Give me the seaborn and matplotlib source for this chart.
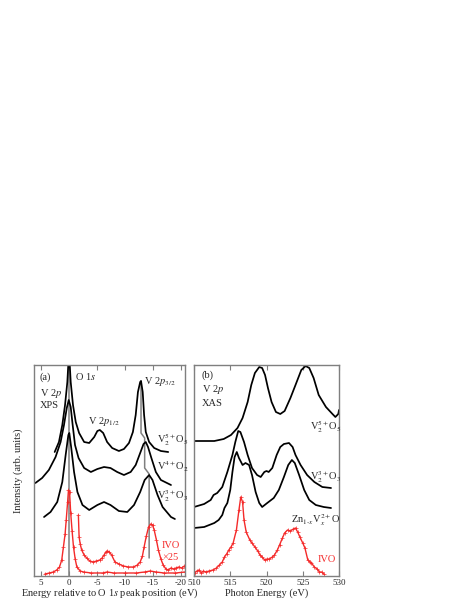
import matplotlib
matplotlib.use("Agg")
import matplotlib.pyplot as plt
import numpy as np
import pandas as pd
import seaborn as sns

sns.set_theme(style="ticks")
plt.rcParams["font.family"] = ["Liberation Serif", "DejaVu Serif"]
plt.rcParams["mathtext.fontset"] = "stix"
plt.rcParams["axes.unicode_minus"] = False

# ---------------------------------------------------------------------------
# (a) V 2p XPS, energy relative to O 1s peak (eV) vs offset intensity
# ---------------------------------------------------------------------------
xps_v2o5_e = [2.56, 1.8, 1.2, 0.71, 0.3, 0.0, -0.3, -0.71, -1.2, -1.8, -2.7,
              -3.6, -4.5, -5.06, -5.5, -6.1, -6.8, -7.7, -8.9, -9.8, -10.7,
              -11.4, -11.9, -12.3, -12.7, -12.85, -13.15, -13.4, -13.7, -14.3,
              -15.2, -16.4, -17.7]
xps_v2o5_i = [124, 134, 151, 171, 194, 225, 194, 171, 154, 143, 134,
              133, 139, 145, 146, 143, 134, 128, 125, 127, 133,
              144, 161, 184, 194, 195, 184, 161, 144, 134,
              128, 125, 124]

xps_vo2_e = [6.0, 4.8, 3.6, 2.4, 1.5, 0.9, 0.4, 0.05, -0.3, -0.65, -1.07, -1.7,
             -2.7, -3.9, -5.06, -6.25, -7.4, -8.6, -9.8, -11.0, -11.9, -12.7,
             -13.3, -13.7, -14.1, -14.7, -15.5, -16.4, -18.2]
xps_vo2_i = [93, 98, 106, 119, 134, 151, 168, 176, 169, 151, 131, 118,
             108, 104, 107, 109, 108, 104, 101, 104, 111, 123,
             132, 134, 129, 118, 104, 96, 91]

xps_v2o3_e = [4.46, 3.3, 2.1, 1.2, 0.6, 0.12, -0.05, -0.4, -0.9, -1.5, -2.4,
              -3.6, -5.06, -6.25, -7.4, -8.9, -10.4, -11.6, -12.7, -13.5,
              -14.3, -14.9, -15.8, -16.7, -18.2, -18.9]
xps_v2o3_i = [59, 64, 74, 94, 121, 141, 143, 128, 104, 84, 71,
              66, 71, 74, 71, 65, 64, 71, 84, 96,
              101, 96, 81, 69, 59, 57]

xps_ivo_e = [4.3, 3.5, 2.8, 2.2, 1.7, 1.3, 1.0, 0.7, 0.5, 0.25, 0.1, -0.1,
             -0.3, -0.55, -0.8, -1.1, -1.4, -2.0, -2.6, -4.0, -6.0, -6.8,
             -8.0, -10.0, -12.0, -13.5, -14.5, -15.5, -17.0, -19.0, -20.7]
xps_ivo_i = [2, 3, 4, 6, 9, 16, 29, 42, 56, 74, 86, 84,
             63, 45, 29, 17, 9, 5, 4, 3, 3, 4,
             3, 3, 3, 4, 5, 4, 3, 3, 4]

xps_ivo25_e = [-1.67, -1.8, -2.0, -2.26, -2.7, -3.15, -3.7, -4.3, -4.9, -5.5,
               -5.9, -6.25, -6.6, -6.85, -7.2, -7.6, -8.2, -8.9, -9.7, -10.6,
               -11.5, -12.2, -12.7, -13.1, -13.4, -13.8, -14.2, -14.6, -14.9,
               -15.2, -15.6, -15.95, -16.4, -16.8, -17.3, -17.7, -18.2, -18.7,
               -19.1, -19.6, -20.1, -20.6]
xps_ivo25_i = [61, 39, 32, 26, 21, 18, 15, 14, 15, 16,
               18, 21, 24, 25, 24, 21, 14, 12, 10, 9,
               9, 11, 14, 20, 29, 40, 49, 52, 51,
               46, 36, 26, 17, 11, 7, 6, 8, 7,
               8, 9, 8, 10]

# gray guide lines (O 1s and V 2p3/2 peak positions)
guide_o1s_e = [0.0, 0.0]
guide_o1s_i = [0, 211]
guide_v23_e = [-12.85, -12.85, -13.5, -13.5, -14.3, -14.3]
guide_v23_i = [195, 143, 138, 108, 102, 18]

# ---------------------------------------------------------------------------
# (b) V 2p XAS, photon energy (eV) vs offset intensity
# ---------------------------------------------------------------------------
xas_v2o5_e = [510.0, 512.8, 514.1, 515.1, 516.0, 516.7, 517.4, 517.9, 518.4,
              519.0, 519.4, 519.8, 520.2, 520.7, 521.3, 521.9, 522.5, 523.3,
              524.0, 524.8, 525.4, 525.9, 526.5, 527.2, 528.2, 529.1, 529.5,
              529.9, 530.0]
xas_v2o5_i = [135, 135, 137, 141, 148, 158, 174, 191, 203,
              209, 208, 201, 188, 174, 164, 162, 165, 178,
              191, 206, 210, 208, 198, 181, 169, 162, 159,
              162, 166]

xas_v2o3_e = [510.0, 511.4, 512.3, 512.7, 513.2, 513.9, 514.6, 515.3, 515.7,
              516.1, 516.4, 516.9, 517.4, 518.0, 518.7, 519.2, 519.7, 520.0,
              520.3, 520.8, 521.4, 521.9, 522.4, 523.1, 523.6, 524.0, 524.7,
              525.6, 526.6, 527.7, 528.9]
xas_v2o3_i = [69, 72, 76, 81, 83, 89, 104, 121, 134,
              145, 144, 134, 121, 108, 101, 99, 104, 105,
              104, 108, 121, 129, 132, 133, 129, 121, 111,
              101, 94, 89, 88]

xas_zno_e = [510.0, 511.4, 512.8, 513.4, 513.9, 514.2, 514.6, 515.0, 515.3,
             515.6, 515.9, 516.2, 516.7, 517.1, 517.6, 518.0, 518.5, 519.0,
             519.4, 520.1, 521.0, 521.7, 522.4, 523.0, 523.5, 523.9, 524.5,
             525.2, 525.9, 526.8, 527.9, 528.9]
xas_zno_i = [48, 49, 53, 56, 61, 68, 73, 86, 104,
             119, 124, 118, 111, 113, 111, 101, 84, 73,
             69, 73, 78, 86, 99, 111, 116, 113, 101,
             86, 76, 71, 69, 68]

xas_ivo_e = [510.1, 510.4, 510.7, 511.0, 511.3, 511.6, 512.1, 512.6, 513.1,
             513.5, 513.9, 514.2, 514.5, 514.8, 515.1, 515.4, 515.85, 516.2,
             516.45, 516.7, 516.9, 517.2, 517.7, 518.0, 518.4, 518.8, 519.1,
             519.4, 519.75, 520.1, 520.4, 520.8, 521.1, 521.5, 521.8, 522.2,
             522.5, 522.9, 523.3, 523.7, 524.0, 524.3, 524.6, 525.0, 525.3,
             525.7, 526.0, 526.2, 526.6, 527.0, 527.3, 527.6, 527.9]
xas_ivo_i = [3, 5, 6, 3, 5, 4, 5, 6, 8,
             11, 14, 19, 22, 26, 29, 33, 46, 66,
             79, 74, 56, 44, 36, 33, 29, 25, 21,
             19, 16, 17, 17, 19, 21, 26, 31, 38,
             43, 46, 45, 47, 48, 44, 39, 33, 28,
             16, 14, 13, 9, 7, 4, 4, 2]

red = "#f42a2a"
gray = "#7f7f7f"
fs = 7.5

fig = plt.figure(figsize=(4.63, 5.99), dpi=100)
ax_a = fig.add_axes([34 / 463, 23 / 599, 151 / 463, 211 / 599])
ax_b = fig.add_axes([194 / 463, 23 / 599, 145 / 463, 211 / 599])


def draw(ax, e, i, color, lw=1.25, noisy=False):
    df = pd.DataFrame({"e": e, "i": i})
    kw = {}
    if noisy:
        kw = dict(marker="+", markersize=2.5, markeredgewidth=0.5,
                  markeredgecolor=color)
    sns.lineplot(data=df, x="e", y="i", ax=ax, color=color, linewidth=lw,
                 sort=False, estimator=None, legend=False, **kw)


# panel (a)
draw(ax_a, guide_o1s_e, guide_o1s_i, gray, lw=1.1)
draw(ax_a, guide_v23_e, guide_v23_i, gray, lw=1.1)
draw(ax_a, xps_v2o5_e, xps_v2o5_i, "black")
draw(ax_a, xps_vo2_e, xps_vo2_i, "black")
draw(ax_a, xps_v2o3_e, xps_v2o3_i, "black")
draw(ax_a, xps_ivo_e, xps_ivo_i, red, lw=1.0, noisy=True)
draw(ax_a, xps_ivo25_e, xps_ivo25_i, red, lw=1.0, noisy=True)

ax_a.set_xlim(6.25, -20.7)
ax_a.set_ylim(0, 211)
ax_a.set_xticks([5, 0, -5, -10, -15, -20])
ax_a.set_xticklabels(["5", "0", "-5", "-10", "-15", "-20"])
ax_a.set_xlabel("Energy relative to O 1$s$ peak position (eV)", fontsize=fs)
ax_a.set_ylabel("Intensity (arb. units)", fontsize=fs)
ax_a.xaxis.set_label_coords(0.5, -0.083)
ax_a.xaxis.label.set_va("center")
ax_a.yaxis.set_label_coords(-0.075, 0.5)

ax_a.text(5.2, 199, "(a)", fontsize=fs, va="center")
ax_a.text(-1.07, 199, "O 1$s$", fontsize=fs, va="center")
ax_a.text(-13.4, 195, "V 2$p_{3/2}$", fontsize=fs, va="center")
ax_a.text(5.2, 183, "V 2$p$", fontsize=fs, va="center")
ax_a.text(5.2, 170, "XPS", fontsize=fs, va="center")
ax_a.text(-3.4, 155, "V 2$p_{1/2}$", fontsize=fs, va="center")
ax_a.text(-15.7, 136, "V$_2^{5+}$O$_5$", fontsize=fs, va="center")
ax_a.text(-15.7, 109, "V$^{4+}$O$_2$", fontsize=fs, va="center")
ax_a.text(-15.7, 80, "V$_2^{3+}$O$_3$", fontsize=fs, va="center")
ax_a.text(-16.6, 31, "IVO", fontsize=fs, va="center", color=red)
ax_a.text(-16.7, 18, "×25", fontsize=fs, va="center", color=red)

# panel (b)
draw(ax_b, xas_v2o5_e, xas_v2o5_i, "black")
draw(ax_b, xas_v2o3_e, xas_v2o3_i, "black")
draw(ax_b, xas_zno_e, xas_zno_i, "black")
draw(ax_b, xas_ivo_e, xas_ivo_i, red, lw=1.0, noisy=True)

ax_b.set_xlim(510, 530)
ax_b.set_ylim(0, 211)
ax_b.set_xticks([510, 515, 520, 525, 530])
ax_b.set_xlabel("Photon Energy (eV)", fontsize=fs)
ax_b.xaxis.set_label_coords(0.5, -0.083)
ax_b.xaxis.label.set_va("center")
ax_b.set_ylabel("")

ax_b.text(511.1, 201, "(b)", fontsize=fs, va="center")
ax_b.text(511.1, 186, "V 2$p$", fontsize=fs, va="center")
ax_b.text(511.1, 172, "XAS", fontsize=fs, va="center")
ax_b.text(526.0, 149, "V$_2^{5+}$O$_5$", fontsize=fs, va="center")
ax_b.text(526.0, 99, "V$_2^{3+}$O$_3$", fontsize=fs, va="center")
ax_b.text(523.4, 56, "Zn$_{1\\text{-}x}$V$_x^{2+}$O", fontsize=fs, va="center")
ax_b.text(527.0, 17, "IVO", fontsize=fs, va="center", color=red)

for ax in (ax_a, ax_b):
    for sp in ax.spines.values():
        sp.set_visible(True)
        sp.set_color(gray)
        sp.set_linewidth(1.0)
    ax.tick_params(axis="x", direction="in", top=True, bottom=True,
                   length=3.5, width=0.8, color=gray, labelsize=6.5, pad=2)
    ax.tick_params(axis="y", left=False, labelleft=False)

plt.savefig("out.png", dpi=100)
plt.close()
